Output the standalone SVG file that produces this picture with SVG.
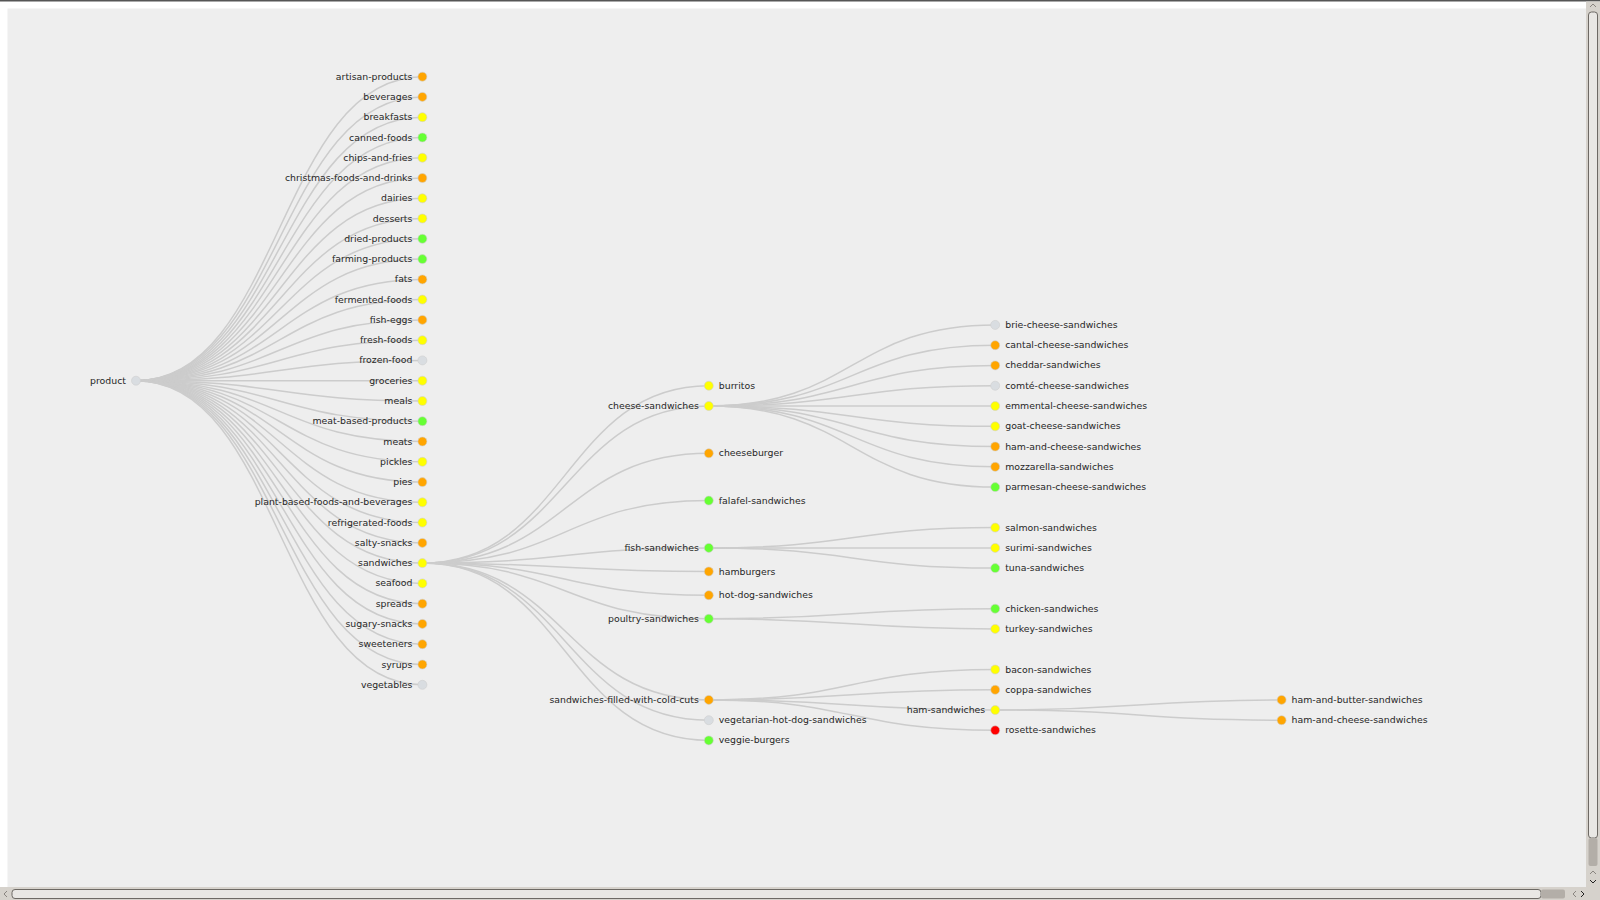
<svg xmlns="http://www.w3.org/2000/svg" width="1600" height="900" viewBox="0 0 1600 900">
<style>
.link{fill:none;stroke:#cccccc;stroke-width:1.5}
.node circle{stroke:#cfcfcf;stroke-width:0.6}
.node text{font-family:"DejaVu Sans",sans-serif;font-size:9.35px;fill:#262626}
.L text{text-anchor:end}
.R text{text-anchor:start}
.o circle{fill:#ffa500}
.y circle{fill:#ffff00}
.g circle{fill:#66ff33}
.n circle{fill:#d9dde1}
.r circle{fill:#ff0000}
</style>
<rect x="0" y="0" width="1600" height="900" fill="#ffffff"/>
<rect x="0" y="0" width="1600" height="1.5" fill="#555555"/>
<rect x="7.5" y="8.5" width="1579" height="879" fill="#eeeeee"/>
<g id="scrollbars">
<rect x="1586" y="1.5" width="14" height="898.5" fill="#d6d2cc"/>
<rect x="0" y="887" width="1600" height="13" fill="#d6d2cc"/>
<rect x="1588.5" y="12" width="9" height="826" rx="3" fill="#e9e7e4" stroke="#6d6964" stroke-width="1"/>
<rect x="1588.5" y="838" width="9" height="28" rx="2" fill="#b3aea8"/>
<rect x="12" y="889.5" width="1529" height="9" rx="3" fill="#e9e7e4" stroke="#6d6964" stroke-width="1"/>
<rect x="1541" y="889.5" width="24" height="9" rx="2" fill="#b3aea8"/>
<path d="M1590,7 L1593,4 L1596,7" fill="none" stroke="#8a8580" stroke-width="1"/>
<path d="M1590,874 L1593,871 L1596,874" fill="none" stroke="#8a8580" stroke-width="1"/>
<path d="M1590,880 L1593,883 L1596,880" fill="none" stroke="#222" stroke-width="1"/>
<path d="M7,891 L4,894 L7,897" fill="none" stroke="#8a8580" stroke-width="1"/>
<path d="M1576,891 L1573,894 L1576,897" fill="none" stroke="#8a8580" stroke-width="1"/>
<path d="M1581,891 L1584,894 L1581,897" fill="none" stroke="#222" stroke-width="1"/>
</g>
<g id="links">
<path class="link" d="M136,380.7C279.2,380.7 279.2,76.7 422.4,76.7"/>
<path class="link" d="M136,380.7C279.2,380.7 279.2,96.9 422.4,96.9"/>
<path class="link" d="M136,380.7C279.2,380.7 279.2,117.2 422.4,117.2"/>
<path class="link" d="M136,380.7C279.2,380.7 279.2,137.5 422.4,137.5"/>
<path class="link" d="M136,380.7C279.2,380.7 279.2,157.7 422.4,157.7"/>
<path class="link" d="M136,380.7C279.2,380.7 279.2,178 422.4,178"/>
<path class="link" d="M136,380.7C279.2,380.7 279.2,198.3 422.4,198.3"/>
<path class="link" d="M136,380.7C279.2,380.7 279.2,218.5 422.4,218.5"/>
<path class="link" d="M136,380.7C279.2,380.7 279.2,238.8 422.4,238.8"/>
<path class="link" d="M136,380.7C279.2,380.7 279.2,259.1 422.4,259.1"/>
<path class="link" d="M136,380.7C279.2,380.7 279.2,279.4 422.4,279.4"/>
<path class="link" d="M136,380.7C279.2,380.7 279.2,299.6 422.4,299.6"/>
<path class="link" d="M136,380.7C279.2,380.7 279.2,319.9 422.4,319.9"/>
<path class="link" d="M136,380.7C279.2,380.7 279.2,340.2 422.4,340.2"/>
<path class="link" d="M136,380.7C279.2,380.7 279.2,360.4 422.4,360.4"/>
<path class="link" d="M136,380.7C279.2,380.7 279.2,380.7 422.4,380.7"/>
<path class="link" d="M136,380.7C279.2,380.7 279.2,401 422.4,401"/>
<path class="link" d="M136,380.7C279.2,380.7 279.2,421.2 422.4,421.2"/>
<path class="link" d="M136,380.7C279.2,380.7 279.2,441.5 422.4,441.5"/>
<path class="link" d="M136,380.7C279.2,380.7 279.2,461.8 422.4,461.8"/>
<path class="link" d="M136,380.7C279.2,380.7 279.2,482.1 422.4,482.1"/>
<path class="link" d="M136,380.7C279.2,380.7 279.2,502.3 422.4,502.3"/>
<path class="link" d="M136,380.7C279.2,380.7 279.2,522.6 422.4,522.6"/>
<path class="link" d="M136,380.7C279.2,380.7 279.2,542.9 422.4,542.9"/>
<path class="link" d="M136,380.7C279.2,380.7 279.2,563.1 422.4,563.1"/>
<path class="link" d="M136,380.7C279.2,380.7 279.2,583.4 422.4,583.4"/>
<path class="link" d="M136,380.7C279.2,380.7 279.2,603.7 422.4,603.7"/>
<path class="link" d="M136,380.7C279.2,380.7 279.2,623.9 422.4,623.9"/>
<path class="link" d="M136,380.7C279.2,380.7 279.2,644.2 422.4,644.2"/>
<path class="link" d="M136,380.7C279.2,380.7 279.2,664.5 422.4,664.5"/>
<path class="link" d="M136,380.7C279.2,380.7 279.2,684.8 422.4,684.8"/>
<path class="link" d="M422.4,563.1C565.6,563.1 565.6,385.7 708.8,385.7"/>
<path class="link" d="M422.4,563.1C565.6,563.1 565.6,406 708.8,406"/>
<path class="link" d="M422.4,563.1C565.6,563.1 565.6,453.3 708.8,453.3"/>
<path class="link" d="M422.4,563.1C565.6,563.1 565.6,500.6 708.8,500.6"/>
<path class="link" d="M422.4,563.1C565.6,563.1 565.6,547.9 708.8,547.9"/>
<path class="link" d="M422.4,563.1C565.6,563.1 565.6,571.5 708.8,571.5"/>
<path class="link" d="M422.4,563.1C565.6,563.1 565.6,595.2 708.8,595.2"/>
<path class="link" d="M422.4,563.1C565.6,563.1 565.6,618.8 708.8,618.8"/>
<path class="link" d="M422.4,563.1C565.6,563.1 565.6,699.9 708.8,699.9"/>
<path class="link" d="M422.4,563.1C565.6,563.1 565.6,720.2 708.8,720.2"/>
<path class="link" d="M422.4,563.1C565.6,563.1 565.6,740.4 708.8,740.4"/>
<path class="link" d="M708.8,406C852,406 852,324.9 995.2,324.9"/>
<path class="link" d="M708.8,406C852,406 852,345.2 995.2,345.2"/>
<path class="link" d="M708.8,406C852,406 852,365.4 995.2,365.4"/>
<path class="link" d="M708.8,406C852,406 852,385.7 995.2,385.7"/>
<path class="link" d="M708.8,406C852,406 852,406 995.2,406"/>
<path class="link" d="M708.8,406C852,406 852,426.3 995.2,426.3"/>
<path class="link" d="M708.8,406C852,406 852,446.5 995.2,446.5"/>
<path class="link" d="M708.8,406C852,406 852,466.8 995.2,466.8"/>
<path class="link" d="M708.8,406C852,406 852,487.1 995.2,487.1"/>
<path class="link" d="M708.8,547.9C852,547.9 852,527.6 995.2,527.6"/>
<path class="link" d="M708.8,547.9C852,547.9 852,547.9 995.2,547.9"/>
<path class="link" d="M708.8,547.9C852,547.9 852,568.1 995.2,568.1"/>
<path class="link" d="M708.8,618.8C852,618.8 852,608.7 995.2,608.7"/>
<path class="link" d="M708.8,618.8C852,618.8 852,628.9 995.2,628.9"/>
<path class="link" d="M708.8,699.9C852,699.9 852,669.5 995.2,669.5"/>
<path class="link" d="M708.8,699.9C852,699.9 852,689.8 995.2,689.8"/>
<path class="link" d="M708.8,699.9C852,699.9 852,710 995.2,710"/>
<path class="link" d="M708.8,699.9C852,699.9 852,730.3 995.2,730.3"/>
<path class="link" d="M995.2,710C1138.4,710 1138.4,699.9 1281.6,699.9"/>
<path class="link" d="M995.2,710C1138.4,710 1138.4,720.2 1281.6,720.2"/>
</g>
<g id="nodes">
<g id="n-product" class="node L n" transform="translate(136,380.7)"><circle r="4.5"/><text x="-10" y="3">product</text></g>
<g id="n-artisan-products" class="node L o" transform="translate(422.4,76.7)"><circle r="4.5"/><text x="-10" y="3">artisan-products</text></g>
<g id="n-beverages" class="node L o" transform="translate(422.4,96.9)"><circle r="4.5"/><text x="-10" y="3">beverages</text></g>
<g id="n-breakfasts" class="node L y" transform="translate(422.4,117.2)"><circle r="4.5"/><text x="-10" y="3">breakfasts</text></g>
<g id="n-canned-foods" class="node L g" transform="translate(422.4,137.5)"><circle r="4.5"/><text x="-10" y="3">canned-foods</text></g>
<g id="n-chips-and-fries" class="node L y" transform="translate(422.4,157.7)"><circle r="4.5"/><text x="-10" y="3">chips-and-fries</text></g>
<g id="n-christmas-foods-and-drinks" class="node L o" transform="translate(422.4,178)"><circle r="4.5"/><text x="-10" y="3">christmas-foods-and-drinks</text></g>
<g id="n-dairies" class="node L y" transform="translate(422.4,198.3)"><circle r="4.5"/><text x="-10" y="3">dairies</text></g>
<g id="n-desserts" class="node L y" transform="translate(422.4,218.5)"><circle r="4.5"/><text x="-10" y="3">desserts</text></g>
<g id="n-dried-products" class="node L g" transform="translate(422.4,238.8)"><circle r="4.5"/><text x="-10" y="3">dried-products</text></g>
<g id="n-farming-products" class="node L g" transform="translate(422.4,259.1)"><circle r="4.5"/><text x="-10" y="3">farming-products</text></g>
<g id="n-fats" class="node L o" transform="translate(422.4,279.4)"><circle r="4.5"/><text x="-10" y="3">fats</text></g>
<g id="n-fermented-foods" class="node L y" transform="translate(422.4,299.6)"><circle r="4.5"/><text x="-10" y="3">fermented-foods</text></g>
<g id="n-fish-eggs" class="node L o" transform="translate(422.4,319.9)"><circle r="4.5"/><text x="-10" y="3">fish-eggs</text></g>
<g id="n-fresh-foods" class="node L y" transform="translate(422.4,340.2)"><circle r="4.5"/><text x="-10" y="3">fresh-foods</text></g>
<g id="n-frozen-food" class="node L n" transform="translate(422.4,360.4)"><circle r="4.5"/><text x="-10" y="3">frozen-food</text></g>
<g id="n-groceries" class="node L y" transform="translate(422.4,380.7)"><circle r="4.5"/><text x="-10" y="3">groceries</text></g>
<g id="n-meals" class="node L y" transform="translate(422.4,401)"><circle r="4.5"/><text x="-10" y="3">meals</text></g>
<g id="n-meat-based-products" class="node L g" transform="translate(422.4,421.2)"><circle r="4.5"/><text x="-10" y="3">meat-based-products</text></g>
<g id="n-meats" class="node L o" transform="translate(422.4,441.5)"><circle r="4.5"/><text x="-10" y="3">meats</text></g>
<g id="n-pickles" class="node L y" transform="translate(422.4,461.8)"><circle r="4.5"/><text x="-10" y="3">pickles</text></g>
<g id="n-pies" class="node L o" transform="translate(422.4,482.1)"><circle r="4.5"/><text x="-10" y="3">pies</text></g>
<g id="n-plant-based-foods-and-beverages" class="node L y" transform="translate(422.4,502.3)"><circle r="4.5"/><text x="-10" y="3">plant-based-foods-and-beverages</text></g>
<g id="n-refrigerated-foods" class="node L y" transform="translate(422.4,522.6)"><circle r="4.5"/><text x="-10" y="3">refrigerated-foods</text></g>
<g id="n-salty-snacks" class="node L o" transform="translate(422.4,542.9)"><circle r="4.5"/><text x="-10" y="3">salty-snacks</text></g>
<g id="n-sandwiches" class="node L y" transform="translate(422.4,563.1)"><circle r="4.5"/><text x="-10" y="3">sandwiches</text></g>
<g id="n-seafood" class="node L y" transform="translate(422.4,583.4)"><circle r="4.5"/><text x="-10" y="3">seafood</text></g>
<g id="n-spreads" class="node L o" transform="translate(422.4,603.7)"><circle r="4.5"/><text x="-10" y="3">spreads</text></g>
<g id="n-sugary-snacks" class="node L o" transform="translate(422.4,623.9)"><circle r="4.5"/><text x="-10" y="3">sugary-snacks</text></g>
<g id="n-sweeteners" class="node L o" transform="translate(422.4,644.2)"><circle r="4.5"/><text x="-10" y="3">sweeteners</text></g>
<g id="n-syrups" class="node L o" transform="translate(422.4,664.5)"><circle r="4.5"/><text x="-10" y="3">syrups</text></g>
<g id="n-vegetables" class="node L n" transform="translate(422.4,684.8)"><circle r="4.5"/><text x="-10" y="3">vegetables</text></g>
<g id="n-burritos" class="node R y" transform="translate(708.8,385.7)"><circle r="4.5"/><text x="10" y="3">burritos</text></g>
<g id="n-cheese-sandwiches" class="node L y" transform="translate(708.8,406)"><circle r="4.5"/><text x="-10" y="3">cheese-sandwiches</text></g>
<g id="n-cheeseburger" class="node R o" transform="translate(708.8,453.3)"><circle r="4.5"/><text x="10" y="3">cheeseburger</text></g>
<g id="n-falafel-sandwiches" class="node R g" transform="translate(708.8,500.6)"><circle r="4.5"/><text x="10" y="3">falafel-sandwiches</text></g>
<g id="n-fish-sandwiches" class="node L g" transform="translate(708.8,547.9)"><circle r="4.5"/><text x="-10" y="3">fish-sandwiches</text></g>
<g id="n-hamburgers" class="node R o" transform="translate(708.8,571.5)"><circle r="4.5"/><text x="10" y="3">hamburgers</text></g>
<g id="n-hot-dog-sandwiches" class="node R o" transform="translate(708.8,595.2)"><circle r="4.5"/><text x="10" y="3">hot-dog-sandwiches</text></g>
<g id="n-poultry-sandwiches" class="node L g" transform="translate(708.8,618.8)"><circle r="4.5"/><text x="-10" y="3">poultry-sandwiches</text></g>
<g id="n-sandwiches-filled-with-cold-cuts" class="node L o" transform="translate(708.8,699.9)"><circle r="4.5"/><text x="-10" y="3">sandwiches-filled-with-cold-cuts</text></g>
<g id="n-vegetarian-hot-dog-sandwiches" class="node R n" transform="translate(708.8,720.2)"><circle r="4.5"/><text x="10" y="3">vegetarian-hot-dog-sandwiches</text></g>
<g id="n-veggie-burgers" class="node R g" transform="translate(708.8,740.4)"><circle r="4.5"/><text x="10" y="3">veggie-burgers</text></g>
<g id="n-brie-cheese-sandwiches" class="node R n" transform="translate(995.2,324.9)"><circle r="4.5"/><text x="10" y="3">brie-cheese-sandwiches</text></g>
<g id="n-cantal-cheese-sandwiches" class="node R o" transform="translate(995.2,345.2)"><circle r="4.5"/><text x="10" y="3">cantal-cheese-sandwiches</text></g>
<g id="n-cheddar-sandwiches" class="node R o" transform="translate(995.2,365.4)"><circle r="4.5"/><text x="10" y="3">cheddar-sandwiches</text></g>
<g id="n-comte-cheese-sandwiches" class="node R n" transform="translate(995.2,385.7)"><circle r="4.5"/><text x="10" y="3">comté-cheese-sandwiches</text></g>
<g id="n-emmental-cheese-sandwiches" class="node R y" transform="translate(995.2,406)"><circle r="4.5"/><text x="10" y="3">emmental-cheese-sandwiches</text></g>
<g id="n-goat-cheese-sandwiches" class="node R y" transform="translate(995.2,426.3)"><circle r="4.5"/><text x="10" y="3">goat-cheese-sandwiches</text></g>
<g id="n-ham-and-cheese-sandwiches-1" class="node R o" transform="translate(995.2,446.5)"><circle r="4.5"/><text x="10" y="3">ham-and-cheese-sandwiches</text></g>
<g id="n-mozzarella-sandwiches" class="node R o" transform="translate(995.2,466.8)"><circle r="4.5"/><text x="10" y="3">mozzarella-sandwiches</text></g>
<g id="n-parmesan-cheese-sandwiches" class="node R g" transform="translate(995.2,487.1)"><circle r="4.5"/><text x="10" y="3">parmesan-cheese-sandwiches</text></g>
<g id="n-salmon-sandwiches" class="node R y" transform="translate(995.2,527.6)"><circle r="4.5"/><text x="10" y="3">salmon-sandwiches</text></g>
<g id="n-surimi-sandwiches" class="node R y" transform="translate(995.2,547.9)"><circle r="4.5"/><text x="10" y="3">surimi-sandwiches</text></g>
<g id="n-tuna-sandwiches" class="node R g" transform="translate(995.2,568.1)"><circle r="4.5"/><text x="10" y="3">tuna-sandwiches</text></g>
<g id="n-chicken-sandwiches" class="node R g" transform="translate(995.2,608.7)"><circle r="4.5"/><text x="10" y="3">chicken-sandwiches</text></g>
<g id="n-turkey-sandwiches" class="node R y" transform="translate(995.2,628.9)"><circle r="4.5"/><text x="10" y="3">turkey-sandwiches</text></g>
<g id="n-bacon-sandwiches" class="node R y" transform="translate(995.2,669.5)"><circle r="4.5"/><text x="10" y="3">bacon-sandwiches</text></g>
<g id="n-coppa-sandwiches" class="node R o" transform="translate(995.2,689.8)"><circle r="4.5"/><text x="10" y="3">coppa-sandwiches</text></g>
<g id="n-ham-sandwiches" class="node L y" transform="translate(995.2,710)"><circle r="4.5"/><text x="-10" y="3">ham-sandwiches</text></g>
<g id="n-rosette-sandwiches" class="node R r" transform="translate(995.2,730.3)"><circle r="4.5"/><text x="10" y="3">rosette-sandwiches</text></g>
<g id="n-ham-and-butter-sandwiches" class="node R o" transform="translate(1281.6,699.9)"><circle r="4.5"/><text x="10" y="3">ham-and-butter-sandwiches</text></g>
<g id="n-ham-and-cheese-sandwiches-2" class="node R o" transform="translate(1281.6,720.2)"><circle r="4.5"/><text x="10" y="3">ham-and-cheese-sandwiches</text></g>
</g>
</svg>
